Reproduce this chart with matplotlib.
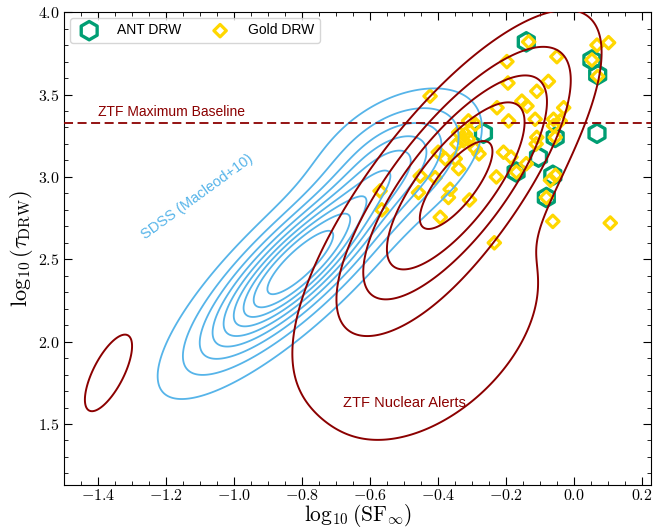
import numpy as np
import matplotlib
matplotlib.use("Agg")
import matplotlib.pyplot as plt
from matplotlib.ticker import MultipleLocator, FuncFormatter

plt.rcParams['mathtext.fontset'] = 'cm'
plt.rcParams['font.family'] = ['Liberation Sans', 'DejaVu Sans']

# ANT DRW sample (log10 SF_inf, log10 tau_DRW)
ant_sf = [-0.141, 0.052, 0.069, 0.067, -0.267, -0.056, -0.105, -0.171, -0.063, -0.082]
ant_tau = [3.82, 3.71, 3.62, 3.265, 3.265, 3.24, 3.12, 3.03, 3.01, 2.875]

# Gold DRW sample
gold_sf = [-0.198, -0.195, -0.424, -0.227, -0.193, -0.311, 0.067, 0.101, 0.052, 0.069,
           -0.051, -0.076, -0.110, -0.154, -0.139, -0.031, -0.115, -0.061, -0.041, -0.061,
           -0.110, -0.056, -0.112, -0.208, -0.186, -0.141, -0.170, -0.229, -0.055, -0.070,
           -0.082, -0.063, -0.308, -0.235, -0.291, -0.340, -0.320, -0.326, -0.311, -0.345,
           -0.291, -0.280, -0.400, -0.379, -0.350, -0.340, -0.453, -0.409, -0.365, -0.458,
           -0.370, -0.571, -0.566, -0.394, 0.106, -0.134]
gold_tau = [3.70, 3.57, 3.49, 3.42, 3.34, 3.34, 3.80, 3.815, 3.71, 3.61,
            3.73, 3.58, 3.52, 3.46, 3.43, 3.42, 3.35, 3.35, 3.34, 3.31,
            3.24, 3.24, 3.20, 3.15, 3.12, 3.08, 3.03, 3.00, 3.01, 2.98,
            2.875, 2.73, 2.86, 2.60, 3.32, 3.27, 3.26, 3.22, 3.23, 3.20,
            3.17, 3.14, 3.15, 3.11, 3.11, 3.05, 3.005, 2.995, 2.925, 2.905,
            2.875, 2.915, 2.80, 2.755, 2.72, 3.82]

# density models for the contour sets: mean (x, y), sigma (x, y), rho, weight
sdss_means = [(-0.81, 2.47), (-0.52, 3.12)]
sdss_sigmas = [(0.175, 0.345), (0.13, 0.22)]
sdss_rho = [0.83, 0.40]
sdss_weights = [1.0, 0.32]
sdss_levels = [0.06, 0.15, 0.25, 0.35, 0.45, 0.55, 0.65, 0.75, 0.87]

ztf_means = [(-0.345, 2.96), (-0.43, 2.05), (-1.37, 1.81)]
ztf_sigmas = [(0.165, 0.41), (0.30, 0.60), (0.07, 0.235)]
ztf_rho = [0.76, 0.45, 0.70]
ztf_weights = [1.0, 0.066, 0.06]
ztf_levels = [0.037, 0.13, 0.28, 0.49, 0.83]

ztf_baseline = 3.33


def mixture(xx, yy, means, sigmas, rhos, weights):
    z = np.zeros_like(xx)
    for (mx, my), (sx, sy), r, w in zip(means, sigmas, rhos, weights):
        dx = (xx - mx) / sx
        dy = (yy - my) / sy
        q = (dx**2 + dy**2 - 2 * r * dx * dy) / (1 - r**2)
        z += w * np.exp(-0.5 * q)
    return z


gx, gy = np.meshgrid(np.linspace(-1.7, 0.5, 500), np.linspace(0.9, 4.5, 600))

fig = plt.figure(figsize=(6.55, 5.30), dpi=100)
ax = fig.add_axes([0.098, 0.085, 0.896, 0.892])

green = '#009E73'
gold = '#FFD700'
blue = '#56B4E9'
red = '#8B0000'

ax.scatter(ant_sf, ant_tau, marker='h', s=175, facecolors='none', edgecolors=green,
           linewidths=2.4, label='ANT DRW', zorder=2)
ax.scatter(gold_sf, gold_tau, marker='D', s=40, facecolors='none', edgecolors=gold,
           linewidths=2.3, label='Gold DRW', zorder=3)

ax.contour(gx, gy, mixture(gx, gy, sdss_means, sdss_sigmas, sdss_rho, sdss_weights),
           levels=sdss_levels, colors=blue, linewidths=1.3, zorder=4)
ax.contour(gx, gy, mixture(gx, gy, ztf_means, ztf_sigmas, ztf_rho, ztf_weights),
           levels=ztf_levels, colors=red, linewidths=1.4, zorder=5)

ax.axhline(ztf_baseline, color=red, ls=(0, (5, 2.5)), lw=1.3, zorder=5)
ax.text(-1.40, ztf_baseline + 0.04, 'ZTF Maximum Baseline', color=red, fontsize=10)
ax.text(-1.11, 2.88, 'SDSS (Macleod+10)', color=blue, fontsize=10.5, rotation=36,
        ha='center', va='center')
ax.text(-0.50, 1.63, 'ZTF Nuclear Alerts', color=red, fontsize=10.5,
        ha='center', va='center')

ax.set_xlim(-1.5, 0.226)
ax.set_ylim(1.13, 4.0)
ax.xaxis.set_major_locator(MultipleLocator(0.2))
ax.xaxis.set_minor_locator(MultipleLocator(0.05))
ax.yaxis.set_major_locator(MultipleLocator(0.5))
ax.yaxis.set_minor_locator(MultipleLocator(0.1))
fmt = FuncFormatter(lambda v, p: '$%.1f$' % v)
ax.xaxis.set_major_formatter(fmt)
ax.yaxis.set_major_formatter(fmt)
ax.tick_params(which='both', direction='in', top=True, right=True, labelsize=11.5)
ax.tick_params(which='major', length=6)
ax.tick_params(which='minor', length=3)
ax.tick_params(axis='x', pad=2.5)

ax.set_xlabel(r'$\log_{10}(\mathrm{SF}_\infty)$', fontsize=15.5)
ax.xaxis.set_label_coords(0.5, -0.036)
ax.set_ylabel(r'$\log_{10}(\tau_{\rm DRW})$', fontsize=16, labelpad=2)

ax.legend(loc='upper left', ncol=2, fontsize=10, frameon=True, borderaxespad=0.4,
          columnspacing=1.8, handletextpad=1.0)

fig.savefig('out.png', dpi=100)
